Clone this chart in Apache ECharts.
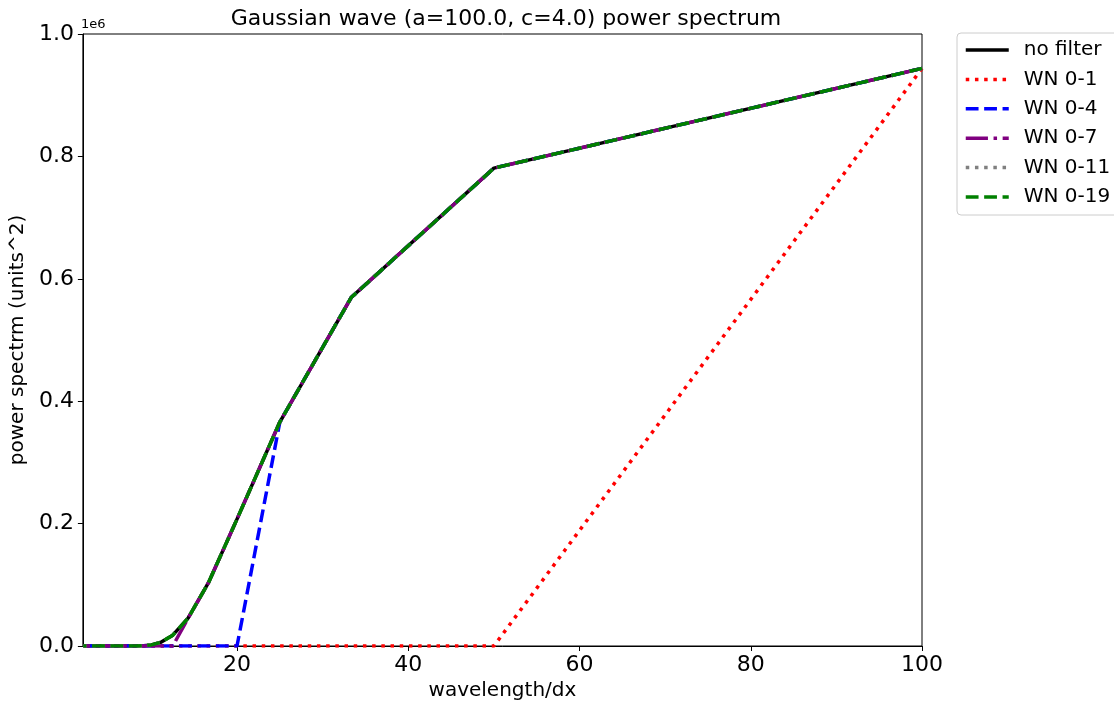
<!DOCTYPE html>
<html>
<head>
<meta charset="utf-8">
<script src="https://cdn.jsdelivr.net/npm/echarts@6/dist/echarts.min.js"></script>
<style>
html,body{margin:0;padding:0;background:#fff;}
#chart{width:1114px;height:706px;}
</style>
</head>
<body>
<div id="chart"></div>
<script>
// wavelength/dx for wavenumbers k = 1..50
const wavelengths = [100, 50, 33.333, 25, 20, 16.667, 14.286, 12.5, 11.111, 10,
  9.091, 8.333, 7.692, 7.143, 6.667, 6.25, 5.882, 5.556, 5.263, 5,
  4.762, 4.545, 4.348, 4.167, 4, 3.846, 3.704, 3.571, 3.448, 3.333,
  3.226, 3.125, 3.030, 2.941, 2.857, 2.778, 2.703, 2.632, 2.564, 2.5,
  2.439, 2.381, 2.326, 2.273, 2.222, 2.174, 2.128, 2.083, 2.041, 2];

const noFilter = [943771, 780844, 569365, 365919, 207265, 103462, 45511, 17648, 6030, 1816,
  482, 113, 23, 4, 0, 0, 0, 0, 0, 0,
  0, 0, 0, 0, 0, 0, 0, 0, 0, 0, 0, 0, 0, 0, 0, 0, 0, 0, 0, 0,
  0, 0, 0, 0, 0, 0, 0, 0, 0, 0];
const wn01 = [943771, 0, 0, 0, 0, 0, 0, 0, 0, 0,
  0, 0, 0, 0, 0, 0, 0, 0, 0, 0, 0, 0, 0, 0, 0, 0, 0, 0, 0, 0,
  0, 0, 0, 0, 0, 0, 0, 0, 0, 0, 0, 0, 0, 0, 0, 0, 0, 0, 0, 0];
const wn04 = [943771, 780844, 569365, 365919, 0, 0, 0, 0, 0, 0,
  0, 0, 0, 0, 0, 0, 0, 0, 0, 0, 0, 0, 0, 0, 0, 0, 0, 0, 0, 0,
  0, 0, 0, 0, 0, 0, 0, 0, 0, 0, 0, 0, 0, 0, 0, 0, 0, 0, 0, 0];
const wn07 = [943771, 780844, 569365, 365919, 207265, 103462, 45511, 0, 0, 0,
  0, 0, 0, 0, 0, 0, 0, 0, 0, 0, 0, 0, 0, 0, 0, 0, 0, 0, 0, 0,
  0, 0, 0, 0, 0, 0, 0, 0, 0, 0, 0, 0, 0, 0, 0, 0, 0, 0, 0, 0];
const wn011 = [943771, 780844, 569365, 365919, 207265, 103462, 45511, 17648, 6030, 1816,
  482, 0, 0, 0, 0, 0, 0, 0, 0, 0, 0, 0, 0, 0, 0, 0, 0, 0, 0, 0,
  0, 0, 0, 0, 0, 0, 0, 0, 0, 0, 0, 0, 0, 0, 0, 0, 0, 0, 0, 0];
const wn019 = [943771, 780844, 569365, 365919, 207265, 103462, 45511, 17648, 6030, 1816,
  482, 113, 23, 4, 0, 0, 0, 0, 0, 0, 0, 0, 0, 0, 0, 0, 0, 0, 0, 0,
  0, 0, 0, 0, 0, 0, 0, 0, 0, 0, 0, 0, 0, 0, 0, 0, 0, 0, 0, 0];

const seriesNames = ['no filter', 'WN 0-1', 'WN 0-4', 'WN 0-7', 'WN 0-11', 'WN 0-19'];
const seriesValues = [noFilter, wn01, wn04, wn07, wn011, wn019];
const xTicks = [20, 40, 60, 80, 100];
const yTicks = [0, 200000, 400000, 600000, 800000, 1000000];

const styles = [
  {color: '#000000', type: 'solid'},
  {color: '#ff0000', type: [3.5, 5.7]},
  {color: '#0000ff', type: [12.8, 5.6]},
  {color: '#800080', type: [22.2, 5.6, 3.5, 5.6]},
  {color: '#808080', type: [3.5, 5.7]},
  {color: '#008000', type: [12.8, 5.6]}
];

const FONT = 'DejaVu Sans';
const chart = echarts.init(document.getElementById('chart'), null, {renderer: 'canvas'});

const series = seriesNames.map((name, i) => ({
  name: name,
  type: 'line',
  symbol: 'none',
  showSymbol: false,
  animation: false,
  color: styles[i].color,
  lineStyle: {color: styles[i].color, width: 3.5, type: styles[i].type, cap: 'butt', join: 'round'},
  data: wavelengths.map((w, j) => [w, seriesValues[i][j]])
}));

chart.setOption({
  animation: false,
  backgroundColor: '#ffffff',
  title: {
    text: 'Gaussian wave (a=100.0, c=4.0) power spectrum',
    left: 501, top: 3, textAlign: 'center',
    textStyle: {fontFamily: FONT, fontSize: 22, fontWeight: 'normal', color: '#000'}
  },
  graphic: [{
    type: 'text', left: 81, top: 18,
    style: {text: '1e6', fontFamily: FONT, fontSize: 13, fill: '#000'}
  }],
  legend: {
    orient: 'vertical', left: 957, top: 33,
    data: seriesNames,
    itemWidth: 43, itemHeight: 14, itemGap: 9.4,
    padding: [7, 30, 8, 7],
    borderColor: '#cccccc', borderWidth: 1, borderRadius: 4,
    backgroundColor: '#fff',
    itemStyle: {opacity: 0},
    lineStyle: {width: 3.5},
    textStyle: {fontFamily: FONT, fontSize: 20, color: '#000', padding: [0, 0, 0, 10], lineHeight: 20}
  },
  grid: {left: 80, right: 192, top: 34, bottom: 56, show: true, borderColor: '#000', borderWidth: 1, backgroundColor: 'transparent'},
  xAxis: {
    type: 'value', min: 2, max: 100,
    name: 'wavelength/dx', nameLocation: 'middle', nameGap: 35,
    nameTextStyle: {fontFamily: FONT, fontSize: 20, color: '#000'},
    axisLine: {show: true, lineStyle: {color: '#000', width: 1}},
    axisTick: {show: true, length: 5, inside: false, lineStyle: {color: '#000'}, customValues: xTicks},
    axisLabel: {fontFamily: FONT, fontSize: 22, color: '#000', margin: 8, customValues: xTicks},
    splitLine: {show: false}
  },
  yAxis: {
    type: 'value', min: 0, max: 1000000, interval: 200000,
    name: 'power spectrm (units^2)', nameLocation: 'middle', nameGap: 41,
    nameTextStyle: {fontFamily: FONT, fontSize: 20, color: '#000'},
    axisLine: {show: true, lineStyle: {color: '#000', width: 1}},
    axisTick: {show: true, length: 5, inside: false, lineStyle: {color: '#000'}, customValues: yTicks},
    axisLabel: {fontFamily: FONT, fontSize: 22, color: '#000', margin: 9, customValues: yTicks,
      padding: [5, 0, 0, 0],
      formatter: v => (v / 1e6).toFixed(1)},
    splitLine: {show: false}
  },
  series: series
});
</script>
</body>
</html>
